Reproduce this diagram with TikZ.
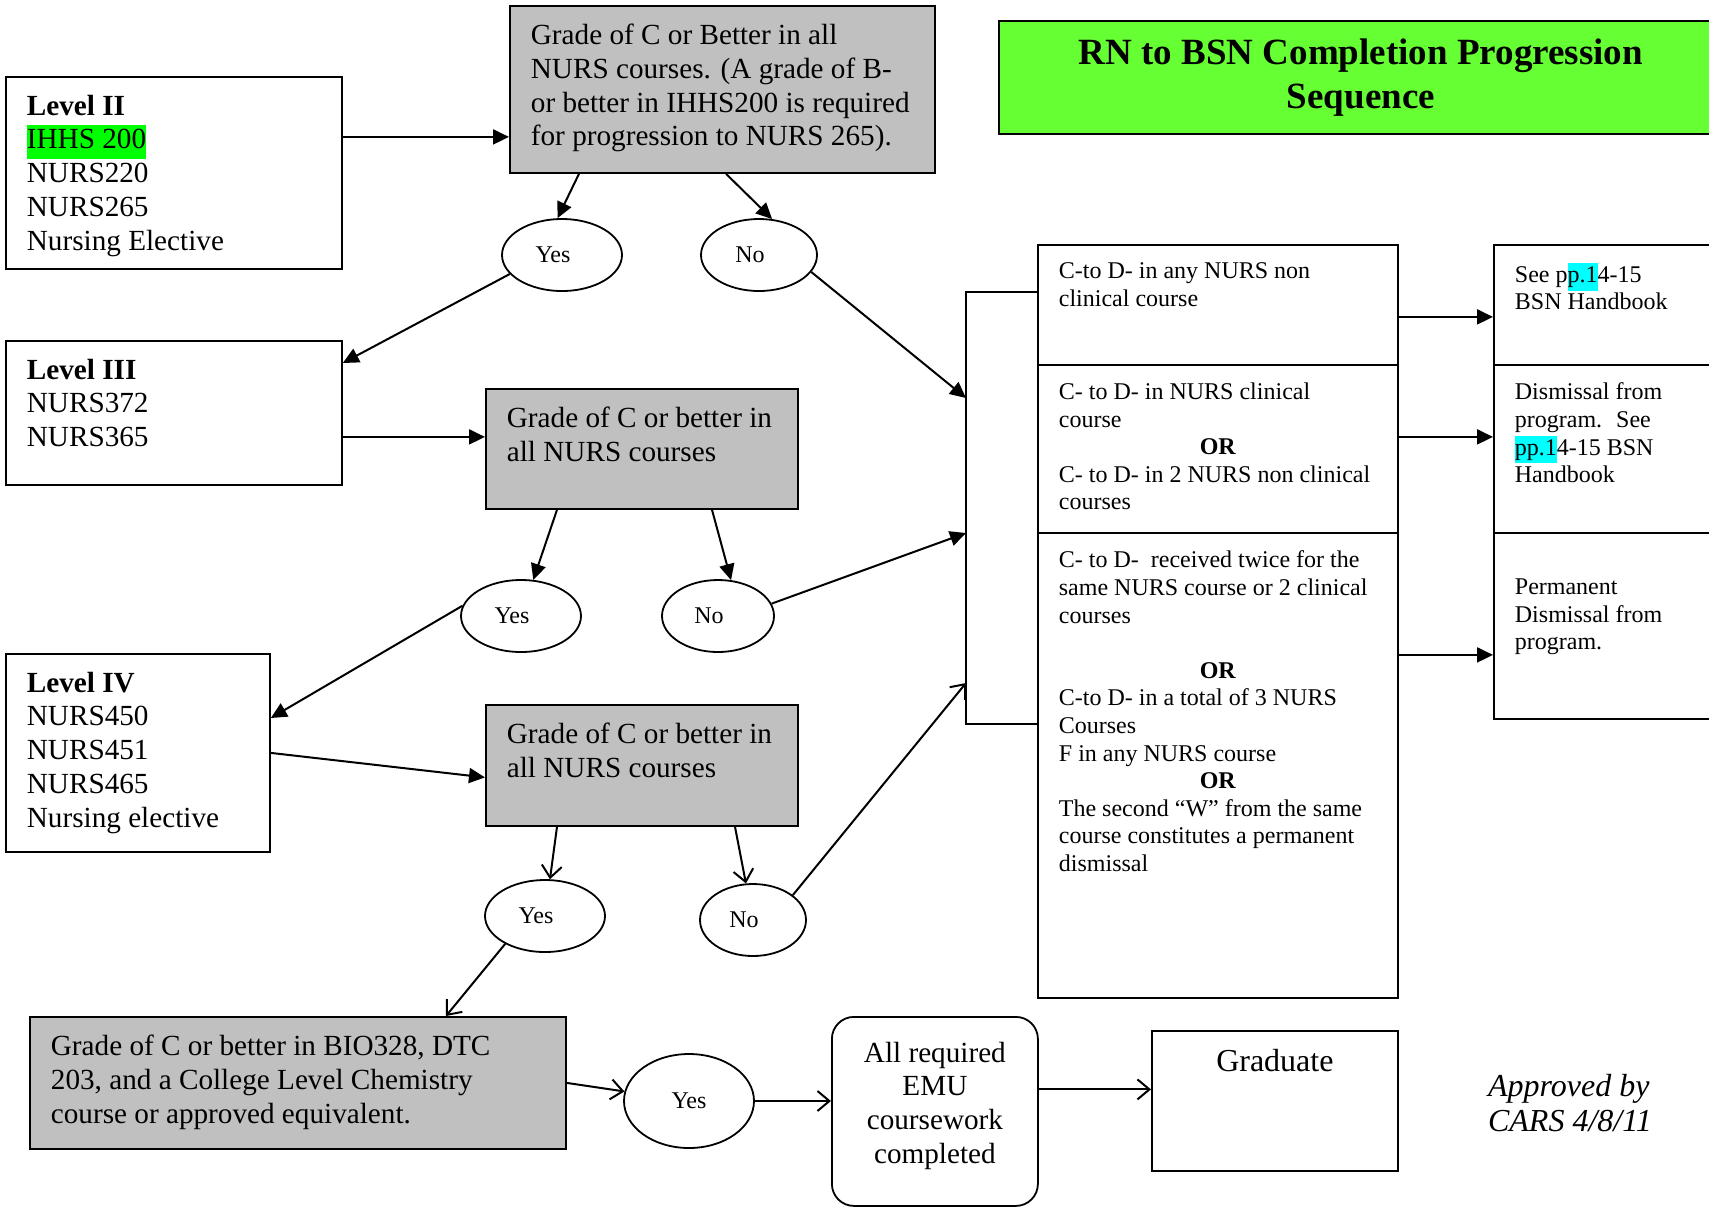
\documentclass[tikz,border=0pt]{standalone}
\usepackage{fontspec}
\setmainfont{Liberation Serif}
\usetikzlibrary{shapes.geometric, arrows.meta, positioning}

\definecolor{boxgrey}{RGB}{192,192,192}
\definecolor{titlegreen}{RGB}{102,255,51}
\definecolor{hlgreen}{RGB}{0,255,0}
\definecolor{hlcyan}{RGB}{0,255,255}

\newcommand{\largetext}{\fontsize{14.6}{16.9}\selectfont}
\newcommand{\smalltext}{\fontsize{12}{13.8}\selectfont}
\newcommand{\hlg}[1]{{\setlength{\fboxsep}{0pt}\colorbox{hlgreen}{\strut #1}}}
\newcommand{\hlc}[1]{{\setlength{\fboxsep}{0pt}\colorbox{hlcyan}{\strut #1}}}
\newcommand{\cell}[3]{\parbox[t][#2][t]{#1}{#3}}

\tikzset{
  txtbox/.style={draw, line width=0.9pt, anchor=north west, inner xsep=10.5pt, inner ysep=9pt, font=\largetext},
  greybox/.style={txtbox, fill=boxgrey},
  rulebox/.style={txtbox, font=\smalltext},
  answer/.style={draw, ellipse, line width=0.9pt, minimum width=60pt, minimum height=36pt, inner sep=0pt, font=\smalltext},
  choice/.style={answer, execute at begin node=\hspace*{-9pt}},
  tri/.style={-{Triangle[length=8pt,width=7.5pt]}, line width=1pt},
  barb/.style={-{Straight Barb[length=6pt,width=10pt]}, line width=1pt}
}

\begin{document}
\begin{tikzpicture}[x=0.5pt, y=-0.5pt]
\path[use as bounding box, fill=white] (0,0) rectangle (1709,1207);

\node[draw, line width=0.9pt, fill=titlegreen, anchor=north west, minimum width=362pt, minimum height=56.5pt,
      align=center, font=\fontsize{18.5}{21.8}\selectfont\bfseries] (title) at (998,20)
      {RN to BSN Completion Progression\\Sequence};

% levels
\node[txtbox] (lvl2) at (5,76) {\cell{147pt}{78pt}{\textbf{Level II}\\ \hlg{IHHS 200}\\ NURS220\\ NURS265\\ Nursing Elective}};
\node[txtbox] (lvl3) at (5,340) {\cell{147pt}{54pt}{\textbf{Level III}\\ NURS372\\ NURS365}};
\node[txtbox] (lvl4) at (5,653) {\cell{111pt}{81pt}{\textbf{Level IV}\\ NURS450\\ NURS451\\ NURS465\\ Nursing elective}};

\node[greybox] (grade1) at (509,5) {\cell{191.5pt}{65.5pt}{Grade of C or Better in all\\ NURS courses. (A grade of B-\\ or better in IHHS200 is required\\ for progression to NURS 265).}};
\node[greybox] (grade2) at (485,388) {\cell{135pt}{42pt}{Grade of C or better in\\ all NURS courses}};
\node[greybox] (grade3) at (485,704) {\cell{135pt}{42.5pt}{Grade of C or better in\\ all NURS courses}};
\node[greybox] (bio) at (29,1016) {\cell{247pt}{48pt}{Grade of C or better in BIO328, DTC\\ 203, and a College Level Chemistry\\ course or approved equivalent.}};

\node[choice] (yes1) at (562,255) {Yes};
\node[choice, minimum width=58pt] (no1) at (759,255) {No};
\node[choice] (yes2) at (521,616) {Yes};
\node[choice, minimum width=56pt] (no2) at (718,616) {No};
\node[choice] (yes3) at (545,916) {Yes};
\node[choice, minimum width=53pt] (no3) at (753,920) {No};
\node[answer, minimum width=65pt, minimum height=47pt] (yes4) at (689,1101) {Yes};

% outcomes
\node[rulebox] (m1) at (1037,244) {\cell{159pt}{42pt}{C-to D- in any NURS non\\ clinical course}};
\node[rulebox] (m2) at (1037,364) {\cell{159pt}{66pt}{C- to D- in NURS clinical\\ course\\ \makebox[\linewidth]{\textbf{OR}}\\ C- to D- in 2 NURS non clinical\\ courses}};
\node[rulebox] (m3) at (1037,532) {\cell{159pt}{214.5pt}{C- to D-~ received twice for the\\ same NURS course or 2 clinical\\ courses\\ \mbox{}\\ \makebox[\linewidth]{\textbf{OR}}\\ C-to D- in a total of 3 NURS\\ Courses\\ F in any NURS course\\ \makebox[\linewidth]{\textbf{OR}}\\ The second ``W'' from the same\\ course constitutes a permanent\\ dismissal}};

\node[rulebox] (r1) at (1493,244) {\cell{92.5pt}{42pt}{See p\hlc{p.1}4-15\\ BSN Handbook}};
\node[rulebox] (r2) at (1493,364) {\cell{92.5pt}{66pt}{Dismissal from\\ program.~ See\\ \hlc{pp.1}4-15 BSN\\ Handbook}};
\node[rulebox] (r3) at (1493,532) {\cell{92.5pt}{75pt}{\vphantom{C}\\ Permanent\\ Dismissal from\\ program.}};

\node[draw, line width=0.9pt, rounded corners=11pt, anchor=north west, inner xsep=0pt, inner ysep=12.5pt,
      font=\largetext] (emu) at (831,1016) {\cell{103pt}{69.5pt}{\centering All required\\EMU\\coursework\\completed}};
\node[txtbox, font=\fontsize{16}{18.4}\selectfont] (grad) at (1151,1030) {\cell{102pt}{52pt}{\centering Graduate}};
\node[anchor=west, align=left, font=\fontsize{16}{17.4}\selectfont\itshape] (approved) at (1481,1103) {Approved by\\CARS 4/8/11};

\coordinate (brtop) at (966,292);
\coordinate (brbot) at (966,724);
\coordinate (in1) at (966,398);
\coordinate (in2) at (966,533);
\coordinate (in3) at (966,683);
\draw[line width=0.9pt] (brtop -| m1.west) -- (brtop) -- (brbot) -- (brbot -| m3.west);

\draw[tri] ([yshift=18pt]lvl2.east) -- ([yshift=18pt]lvl2.east -| grade1.west);
\draw[tri] ([xshift=35pt]grade1.south west) -- (yes1.97);
\draw[tri] ([xshift=108.5pt]grade1.south west) -- (no1.70);
\draw[tri] (yes1.-160) -- ([yshift=-11.5pt]lvl3.north east);
\draw[tri] (no1.-18) -- (in1);

\draw[tri] ([yshift=-12pt]lvl3.east) -- ([yshift=-12pt]lvl3.east -| grade2.west);
\draw[tri] ([xshift=36pt]grade2.south west) -- (yes2);
\draw[tri] ([xshift=113.5pt]grade2.south west) -- (no2.70);
\draw[tri] (no2.13) -- (in2);
\draw[tri] (yes2.170) -- ([yshift=-32.5pt]lvl4.north east);

\draw[tri] (lvl4.east) -- ([yshift=-6pt]grade3.west);
\draw[barb] ([xshift=36pt]grade3.south west) -- (yes3);
\draw[barb] ([xshift=125pt]grade3.south west) -- (no3);
\draw[barb] (no3.32) -- (in3);
\draw[barb] (yes3.-145) -- ([xshift=208.5pt]bio.north west);

\draw[barb] (bio.east) -- (yes4);
\draw[barb] (yes4) -- (yes4 -| emu.west);
\draw[barb] ([yshift=11pt]emu.east) -- ([yshift=11pt]emu.east -| grad.west);

\draw[tri] ([yshift=-6pt]m1.east) -- ([yshift=-6pt]m1.east -| r1.west);
\draw[tri] ([yshift=6pt]m2.east) -- ([yshift=6pt]m2.east -| r2.west);
\draw[tri] ([yshift=-14.5pt]r3.west -| m3.east) -- ([yshift=-14.5pt]r3.west);
\end{tikzpicture}
\end{document}
